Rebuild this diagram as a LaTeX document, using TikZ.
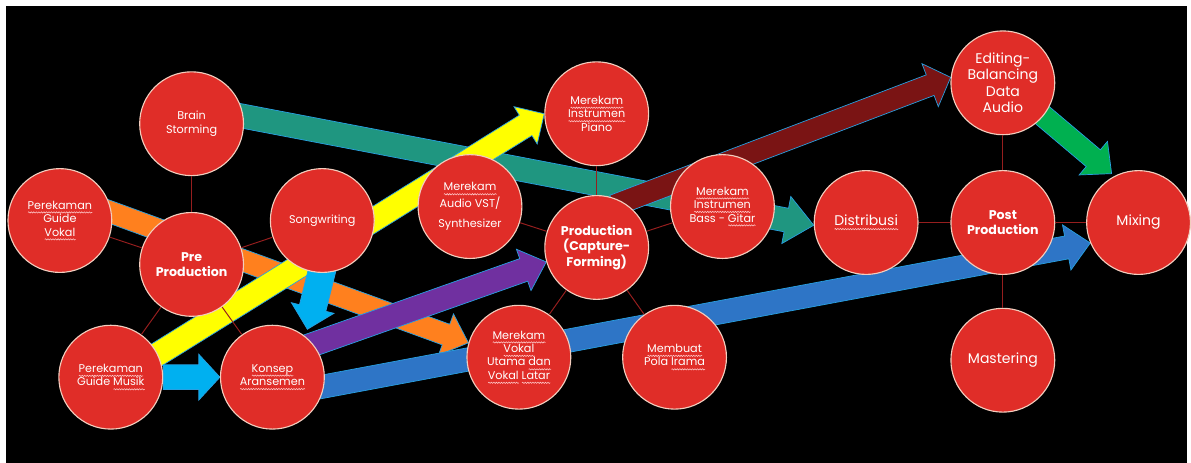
\documentclass[tikz,border=0pt]{standalone}
\usepackage{fontspec}
\setmainfont{Poppins}
\usetikzlibrary{calc,decorations.pathmorphing}

\definecolor{circred}{RGB}{224,45,40}
\definecolor{circrim}{RGB}{242,205,190}
\definecolor{linkred}{RGB}{150,30,30}
\definecolor{rimblue}{RGB}{40,160,225}
\definecolor{ateal}{RGB}{31,150,128}
\definecolor{aorange}{RGB}{255,128,30}
\definecolor{ayellow}{RGB}{255,255,0}
\definecolor{apurple}{RGB}{112,48,160}
\definecolor{amaroon}{RGB}{122,20,20}
\definecolor{ablue}{RGB}{46,117,198}
\definecolor{agreen}{RGB}{0,176,80}
\definecolor{acyan}{RGB}{0,176,240}
\definecolor{squig}{RGB}{255,200,200}

% spell-check squiggle under a word
\newsavebox\sqbox
\newlength\sqw
\newcommand{\sq}[1]{\sbox\sqbox{#1}\setlength\sqw{\wd\sqbox}\leavevmode\rlap{\tikz[baseline=0pt]
  \draw[squig, line width=0.4pt, decorate, decoration={snake, amplitude=0.45pt, segment length=1.8pt}]
  (0pt,-2.4pt) -- (\sqw,-2.4pt);}\usebox\sqbox}

% block arrow: colour, from, to, half body, half head, head length
\newcommand{\barrow}[6]{%
  \coordinate (h) at ($(#3)!#6!(#2)$);
  \filldraw[rim, fill=#1] ($(#2)!#4!90:(#3)$) -- ($(h)!#4!-90:(#2)$) -- ($(h)!#5!-90:(#2)$)
    -- (#3) -- ($(h)!#5!90:(#2)$) -- ($(h)!#4!90:(#2)$) -- ($(#2)!#4!-90:(#3)$) -- cycle;
}

\pgfdeclarelayer{bg}
\pgfdeclarelayer{arrows}
\pgfsetlayers{bg,arrows,main}

\tikzset{
  circ/.style={circle, fill=circred, draw=circrim, line width=0.8pt, minimum size=2.6cm,
    inner sep=0pt, align=center, text=white},
  small/.style={circ, font=\fontsize{8}{9.6}\selectfont},
  hub/.style={circ, font=\fontsize{9}{10.6}\selectfont\bfseries},
  big/.style={circ, font=\fontsize{10}{11.8}\selectfont},
  link/.style={draw=linkred, line width=0.7pt},
  rim/.style={draw=rimblue, line width=0.5pt}
}

\begin{document}
\begin{tikzpicture}[x=0.025cm, y=-0.025cm]
  \begin{pgfonlayer}{bg}
    \fill[white] (0,0) rectangle (1191,464);
    \fill[black] (6,6) rectangle (1190,464);
  \end{pgfonlayer}

  % pre production
  \node[hub] (pre) at (192,265) {Pre\\Production};
  \node[small] (bs) at (192,124) {Brain\\Storming};
  \node[small] (gv) at (60,221) {\sq{Perekaman}\\Guide\\\sq{Vokal}};
  \node[small] (sw) at (323,221) {Songwriting};
  \node[small] (gm) at (111,378) {\sq{Perekaman}\\Guide \sq{Musik}};
  \node[small] (ka) at (273,378) {\sq{Konsep}\\\sq{Aransemen}};

  % production
  \node[hub] (prod) at (598,248) {Production\\(Capture-\\Forming)};
  \node[small] (piano) at (598,114) {\sq{Merekam}\\\sq{Instrumen}\\Piano};
  \node[small] (vst) at (471,207) {\sq{Merekam}\\Audio VST/\\[5pt]Synthesizer};
  \node[small] (bass) at (724,207) {\sq{Merekam}\\\sq{Instrumen}\\Bass - \sq{Gitar}};
  \node[small] (vokal) at (520,358) {\sq{Merekam}\\\sq{Vokal}\\Utama \sq{dan}\\\sq{Vokal} \sq{Latar}};
  \node[small] (irama) at (676,358) {\sq{Membuat}\\Pola \sq{Irama}};

  % post production
  \node[hub] (post) at (1005,223) {Post\\Production};
  \node[big] (edit) at (1005,83) {Editing-\\Balancing\\Data\\Audio};
  \node[big] (dist) at (868,223) {\sq{Distribusi}};
  \node[big] (mix) at (1141,223) {Mixing};
  \node[big] (mast) at (1005,361) {Mastering};

  \coordinate (tealA) at (215,111);
  \coordinate (orangeA) at (90,205);
  \coordinate (yellowA) at (150,360);
  \coordinate (purpleA) at (300,350);
  \coordinate (maroonA) at (615,206);
  \coordinate (blueA) at (310,390);
  \coordinate (greenA) at (1037,109);
  \coordinate (greenB) at (1114,174);
  \coordinate (cyanA) at (325,262);
  \coordinate (cyanB) at (308,330);

  \begin{pgfonlayer}{arrows}
    \barrow{ateal}{tealA}{dist.183}{0.3cm}{0.6cm}{0.7cm}
    \barrow{aorange}{orangeA}{vokal.164}{0.275cm}{0.55cm}{0.6cm}
    \barrow{ayellow}{yellowA}{piano.west}{0.3cm}{0.55cm}{0.55cm}
    \barrow{apurple}{purpleA}{prod.196}{0.3cm}{0.55cm}{0.6cm}
    \barrow{amaroon}{maroonA}{edit.174}{0.275cm}{0.575cm}{0.55cm}
    \barrow{ablue}{blueA}{mix.203}{0.29cm}{0.575cm}{0.6cm}
    \barrow{agreen}{greenA}{greenB}{0.275cm}{0.55cm}{0.6cm}
    \barrow{acyan}{cyanA}{cyanB}{0.34cm}{0.55cm}{0.55cm}
    \barrow{acyan}{gm.east}{ka.west}{0.31cm}{0.575cm}{0.53cm}
  \end{pgfonlayer}

  \draw[link] (pre) -- (bs);
  \draw[link] (pre) -- (gv);
  \draw[link] (pre) -- (sw);
  \draw[link] (pre) -- (gm);
  \draw[link] (pre) -- (ka);
  \draw[link] (prod) -- (piano);
  \draw[link] (prod) -- (vst);
  \draw[link] (prod) -- (bass);
  \draw[link] (prod) -- (vokal);
  \draw[link] (prod) -- (irama);
  \draw[link] (post) -- (edit);
  \draw[link] (post) -- (dist);
  \draw[link] (post) -- (mix);
  \draw[link] (post) -- (mast);
\end{tikzpicture}
\end{document}
